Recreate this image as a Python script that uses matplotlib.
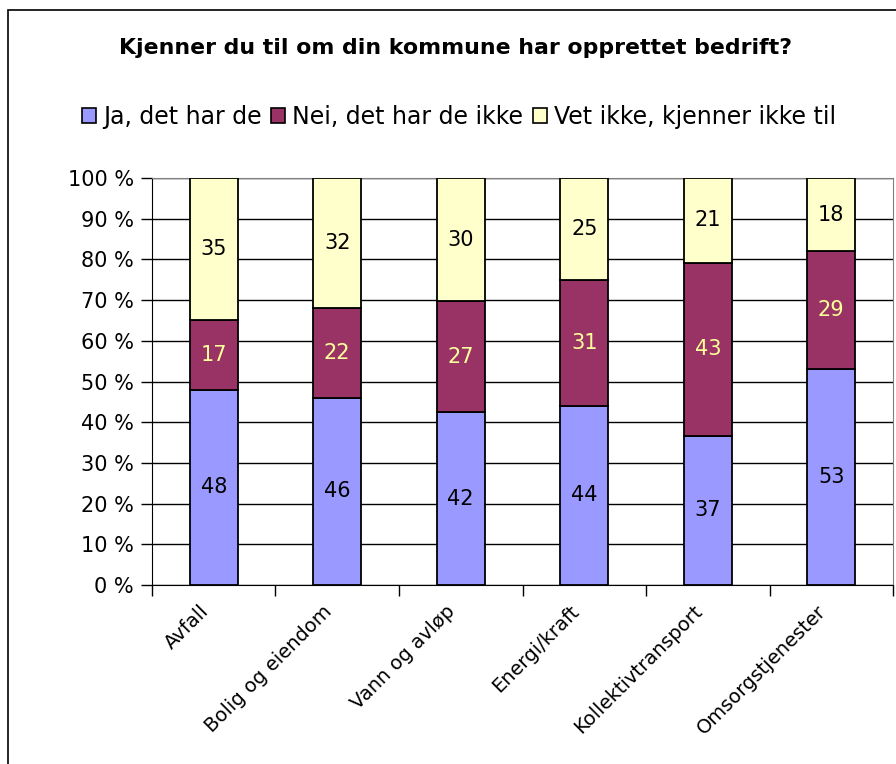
import numpy as np
import matplotlib
matplotlib.use("Agg")
import matplotlib.pyplot as plt
import matplotlib.transforms as mtransforms
from matplotlib.patches import Patch, Rectangle

plt.rcParams['font.family'] = ['DejaVu Sans']

# Data
categories = ["Avfall", "Bolig og eiendom", "Vann og avløp", "Energi/kraft",
              "Kollektivtransport", "Omsorgstjenester"]
ja = [48, 46, 42, 44, 37, 53]
nei = [17, 22, 27, 31, 43, 29]
vet_ikke = [35, 32, 30, 25, 21, 18]
series_names = ["Ja, det har de", "Nei, det har de ikke", "Vet ikke, kjenner ikke til"]
colors = ["#9999FF", "#993366", "#FFFFCC"]
label_colors = ["black", "#FFFF99", "black"]

raw = np.array([ja, nei, vet_ikke], dtype=float)
pct = raw / raw.sum(axis=0) * 100

fig = plt.figure(figsize=(8.96, 7.64), dpi=100)
ax = fig.add_axes([0.1696, 0.2343, 0.8271, 0.5327])

x = np.arange(len(categories))
bottom = np.zeros(len(categories))
for i in range(3):
    ax.bar(x, pct[i], bottom=bottom, width=0.39, color=colors[i],
           edgecolor="black", linewidth=1.3, zorder=3)
    for j in range(len(categories)):
        ax.text(x[j], bottom[j] + pct[i][j] / 2, f"{int(raw[i][j])}",
                ha="center", va="center", fontsize=15, color=label_colors[i], zorder=4)
    bottom += pct[i]

ax.set_xlim(-0.5, len(categories) - 0.5)
ax.set_ylim(0, 100)
ax.set_yticks(np.arange(0, 101, 10))
ax.set_yticklabels([f"{v} %" for v in range(0, 101, 10)], fontsize=15)
ax.yaxis.grid(True, color="black", linewidth=1, zorder=0)
ax.set_axisbelow(True)
ax.tick_params(axis="y", length=8, width=1, pad=5)

ax.set_xticks(x)
ax.set_xticklabels(categories, rotation=45, ha="right", rotation_mode="anchor", fontsize=14)
ax.tick_params(axis="x", which="major", length=0, pad=12)
shift = mtransforms.ScaledTranslation(-15 / 100, 0, fig.dpi_scale_trans)
for lbl in ax.get_xticklabels():
    lbl.set_transform(lbl.get_transform() + shift)
ax.set_xticks(np.arange(-0.5, len(categories)), minor=True)
ax.tick_params(axis="x", which="minor", length=8, width=1)

ax.spines["top"].set_color("#808080")
ax.spines["right"].set_color("#808080")
ax.spines["left"].set_color("black")
ax.spines["bottom"].set_color("black")

fig.text(0.508, 0.937, "Kjenner du til om din kommune har opprettet bedrift?",
         ha="center", va="center", fontsize=15.8, fontweight="bold")

handles = [Patch(facecolor=c, edgecolor="black", linewidth=1.2) for c in colors]
fig.legend(handles, series_names, loc="center", bbox_to_anchor=(0.512, 0.847), ncol=3,
           frameon=False, fontsize=17, handlelength=0.6, handleheight=0.6,
           handletextpad=0.3, columnspacing=0.4)

# outer chart border
fig.patches.append(Rectangle((0.0089, -0.1), 1.1, 1.087, transform=fig.transFigure,
                             fill=False, edgecolor="black", linewidth=1.2))

fig.savefig("out.png", dpi=100)
